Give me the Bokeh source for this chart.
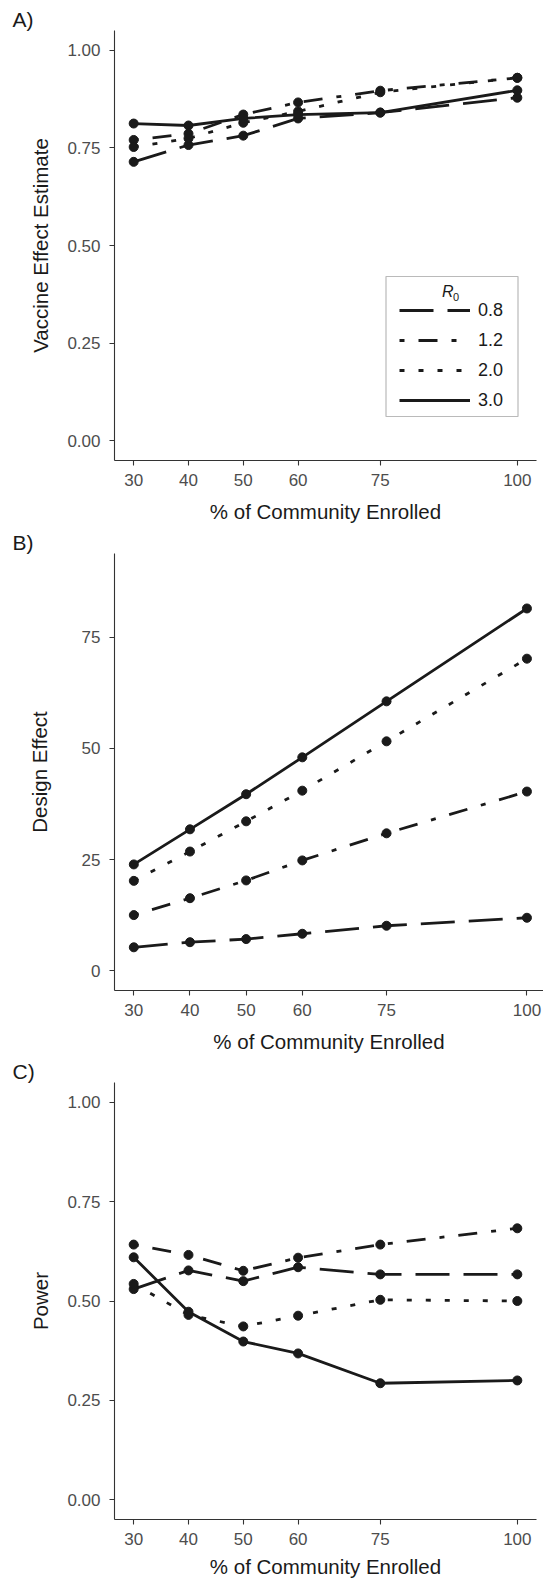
from bokeh.plotting import figure
from bokeh.layouts import column
from bokeh.models import (Range1d, FixedTicker, PrintfTickFormatter, Legend,
                          LegendItem, Label, BoxAnnotation)
from bokeh.embed import file_html
from bokeh.resources import INLINE

# ---------------- data ----------------
enrolled = [30, 40, 50, 60, 75, 100]
r0_levels = ["0.8", "1.2", "2.0", "3.0"]

ve_08 = [0.714, 0.757, 0.781, 0.825, 0.840, 0.878]
ve_12 = [0.770, 0.786, 0.835, 0.866, 0.896, 0.929]
ve_20 = [0.752, 0.774, 0.814, 0.843, 0.892, 0.929]
ve_30 = [0.812, 0.807, 0.825, 0.835, 0.840, 0.897]

de_08 = [5.25, 6.4, 7.1, 8.3, 10.1, 11.9]
de_12 = [12.5, 16.3, 20.3, 24.8, 30.9, 40.3]
de_20 = [20.2, 26.8, 33.6, 40.5, 51.6, 70.2]
de_30 = [23.9, 31.8, 39.7, 48.0, 60.6, 81.5]

pw_08 = [0.530, 0.577, 0.550, 0.585, 0.567, 0.567]
pw_12 = [0.642, 0.616, 0.576, 0.609, 0.642, 0.683]
pw_20 = [0.543, 0.465, 0.436, 0.463, 0.503, 0.500]
pw_30 = [0.610, 0.473, 0.398, 0.368, 0.293, 0.300]

prop_ticks = [0, 0.25, 0.5, 0.75, 1.0]
de_ticks = [0, 25, 50, 75]

# ---------------- styles ----------------
FONT = "Liberation Sans"
INK = "#1a1a1a"
AXIS = "#333333"
DASH = {"0.8": "34 14", "1.2": "5 14 19 14", "2.0": "5 14", "3.0": "solid"}


def make_panel(series, x_rng, y_rng, y_ticks, y_fmt, ylabel, tag,
               frame_w, border_top, border_bottom, frame_h, ylab_standoff,
               xlab_standoff, legend=False):
    p = figure(width=543, height=border_top + frame_h + border_bottom,
               frame_width=frame_w, frame_height=frame_h,
               min_border_left=114, min_border_right=543 - 114 - frame_w,
               min_border_top=border_top, min_border_bottom=border_bottom,
               x_range=Range1d(*x_rng), y_range=Range1d(*y_rng),
               output_backend="svg", toolbar_location=None, tools="")
    p.outline_line_color = None
    p.grid.visible = False
    p.background_fill_color = "white"
    p.border_fill_color = "white"

    p.title.text = tag
    p.title.align = "left"
    p.title.offset = -102
    p.title.standoff = 0
    p.title.text_font = FONT
    p.title.text_font_size = "21px"
    p.title.text_font_style = "normal"
    p.title.text_color = INK

    items = []
    for lvl, ys in zip(r0_levels, series):
        ln = p.line(enrolled, ys, line_color=INK, line_width=2.8,
                    line_dash=DASH[lvl])
        p.scatter(enrolled, ys, size=9, color=INK)
        items.append(LegendItem(label=lvl, renderers=[ln]))

    for ax in (p.xaxis[0], p.yaxis[0]):
        ax.axis_line_color = AXIS
        ax.axis_line_width = 1.1
        ax.major_tick_line_color = AXIS
        ax.major_tick_line_width = 1.1
        ax.major_tick_out = 5
        ax.major_tick_in = 0
        ax.minor_tick_line_color = None
        ax.major_label_text_font = FONT
        ax.major_label_text_font_size = "17px"
        ax.major_label_text_color = "#4d4d4d"
        ax.axis_label_text_font = FONT
        ax.axis_label_text_font_size = "20.5px"
        ax.axis_label_text_font_style = "normal"
        ax.axis_label_text_color = INK

    p.xaxis.ticker = FixedTicker(ticks=enrolled)
    p.xaxis.axis_label = "% of Community Enrolled"
    p.xaxis.major_label_standoff = 8
    p.xaxis.axis_label_standoff = xlab_standoff

    p.yaxis.ticker = FixedTicker(ticks=y_ticks)
    p.yaxis.formatter = PrintfTickFormatter(format=y_fmt)
    p.yaxis.axis_label = ylabel
    p.yaxis.major_label_standoff = 9
    p.yaxis.axis_label_standoff = ylab_standoff

    if legend:
        lg = Legend(items=items, location=(285, 49), glyph_width=71,
                    glyph_height=22, label_height=22, spacing=8, padding=0,
                    margin=0, label_standoff=8, border_line_color=None,
                    background_fill_alpha=0, label_text_font=FONT,
                    label_text_font_size="18px", label_text_color=INK)
        p.add_layout(lg)
        p.add_layout(BoxAnnotation(left=271.5, right=403.5, top=184, bottom=44,
                                   left_units="screen", right_units="screen",
                                   top_units="screen", bottom_units="screen",
                                   fill_color=None, fill_alpha=0,
                                   line_color=INK, line_width=1.2))
        p.add_layout(Label(x=327.5, y=169, x_units="screen", y_units="screen",
                           text="R", text_font=FONT, text_font_size="16px",
                           text_font_style="italic", text_color=INK,
                           text_baseline="alphabetic", text_align="left"))
        p.add_layout(Label(x=338.5, y=164, x_units="screen", y_units="screen",
                           text="0", text_font=FONT, text_font_size="11px",
                           text_color=INK, text_baseline="alphabetic",
                           text_align="left"))
    return p


pA = make_panel([ve_08, ve_12, ve_20, ve_30], (26.5, 103.5), (-0.05, 1.05),
                prop_ticks, "%.2f", "Vaccine Effect Estimate", "A)",
                422, 30, 68, 430, 12, 11, legend=True)
pB = make_panel([de_08, de_12, de_20, de_30], (26.56, 102.95), (-4.47, 93.87),
                de_ticks, "%d", "Design Effect", "B)",
                429, 24, 67, 437, 28, 11)
pC = make_panel([pw_08, pw_12, pw_20, pw_30], (26.5, 103.5), (-0.05, 1.05),
                prop_ticks, "%.2f", "Power", "C)",
                422, 24, 65, 437, 12, 7)

layout = column(pA, pB, pC, spacing=0)
open("out.html", "w").write(file_html(layout, INLINE))
